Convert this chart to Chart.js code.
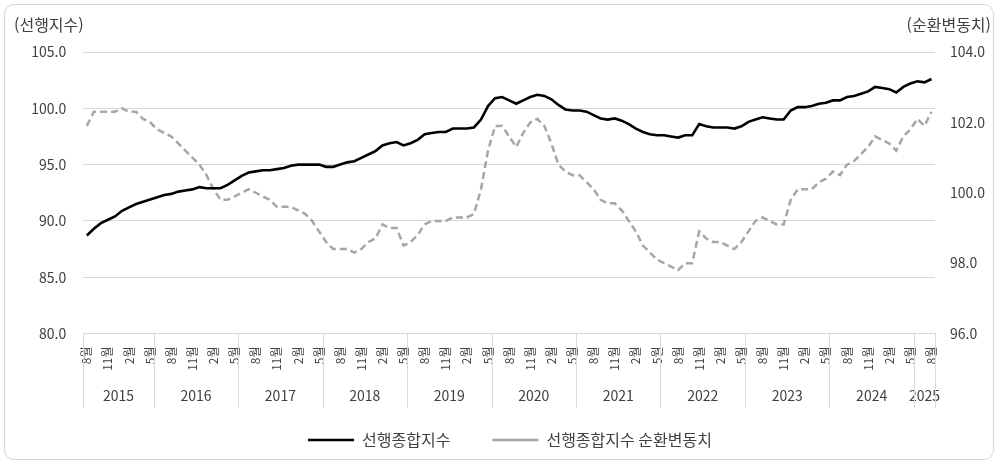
<!DOCTYPE html>
<html lang="ko">
<head>
<meta charset="utf-8">
<script src="https://cdn.jsdelivr.net/npm/chart.js@4/dist/chart.umd.min.js"></script>
<style>
  html, body { margin: 0; padding: 0; background: #fff; }
  #wrap { position: relative; width: 1001px; height: 466px; }
  #frame { position: absolute; left: 4px; top: 4px; width: 990px; height: 456px;
           border: 1px solid #d4d4d4; border-radius: 10px; box-sizing: border-box; }
  #chart { position: absolute; left: 0; top: 0; }
</style>
</head>
<body>
<div id="wrap">
  <div id="frame"></div>
  <canvas id="chart" width="1001" height="466"></canvas>
</div>
<script>
// 선행종합지수 and its cyclical component, monthly 2015.8 ~ 2025.8
const startYear = 2015;
const startMonth = 8;
const monthCount = 121;

const leadingIndex = [
  88.7, 89.3, 89.8, 90.1, 90.4, 90.9, 91.2, 91.5, 91.7, 91.9,
  92.1, 92.3, 92.4, 92.6, 92.7, 92.8, 93.0, 92.9, 92.9, 92.9,
  93.2, 93.6, 94.0, 94.3, 94.4, 94.5, 94.5, 94.6, 94.7, 94.9,
  95.0, 95.0, 95.0, 95.0, 94.8, 94.8, 95.0, 95.2, 95.3, 95.6,
  95.9, 96.2, 96.7, 96.9, 97.0, 96.7, 96.9, 97.2, 97.7, 97.8,
  97.9, 97.9, 98.2, 98.2, 98.2, 98.3, 99.0, 100.2, 100.9, 101.0,
  100.7, 100.4, 100.7, 101.0, 101.2, 101.1, 100.8, 100.3, 99.9, 99.8,
  99.8, 99.7, 99.4, 99.1, 99.0, 99.1, 98.9, 98.6, 98.2, 97.9,
  97.7, 97.6, 97.6, 97.5, 97.4, 97.6, 97.6, 98.6, 98.4, 98.3,
  98.3, 98.3, 98.2, 98.4, 98.8, 99.0, 99.2, 99.1, 99.0, 99.0,
  99.8, 100.1, 100.1, 100.2, 100.4, 100.5, 100.7, 100.7, 101.0, 101.1,
  101.3, 101.5, 101.9, 101.8, 101.7, 101.4, 101.9, 102.2, 102.4, 102.3,
  102.6
];

const cyclicalComponent = [
  101.9, 102.3, 102.3, 102.3, 102.3, 102.4, 102.3, 102.3, 102.1, 102.0,
  101.8, 101.7, 101.6, 101.4, 101.2, 101.0, 100.8, 100.5, 100.1, 99.8,
  99.8, 99.9, 100.0, 100.1, 100.0, 99.9, 99.8, 99.6, 99.6, 99.6,
  99.5, 99.4, 99.2, 98.9, 98.6, 98.4, 98.4, 98.4, 98.3, 98.4,
  98.6, 98.7, 99.1, 99.0, 99.0, 98.5, 98.6, 98.8, 99.1, 99.2,
  99.2, 99.2, 99.3, 99.3, 99.3, 99.4, 100.1, 101.2, 101.9, 101.9,
  101.6, 101.3, 101.7, 102.0, 102.1, 101.9, 101.4, 100.8, 100.6, 100.5,
  100.5, 100.3, 100.1, 99.8, 99.7, 99.7, 99.5, 99.2, 98.9, 98.5,
  98.3, 98.1, 98.0, 97.9, 97.8, 98.0, 98.0, 98.9, 98.7, 98.6,
  98.6, 98.5, 98.4, 98.6, 98.9, 99.2, 99.3, 99.2, 99.1, 99.1,
  99.8, 100.1, 100.1, 100.1, 100.3, 100.4, 100.6, 100.5, 100.8, 100.9,
  101.1, 101.3, 101.6, 101.5, 101.4, 101.2, 101.6, 101.8, 102.1, 101.9,
  102.3
];

// year row of the category axis (as grouped in the original sheet)
const yearLabels = ['2015', '2016', '2017', '2018', '2019', '2020', '2021', '2022', '2023', '2024', '2025'];
const yearSpans = [10, 12, 12, 12, 12, 12, 12, 12, 12, 12, 3];
const monthLabelEvery = 3;

const leftTicks = { min: 80, max: 105, step: 5 };
const rightTicks = { min: 96, max: 104, step: 2 };

const seriesNames = ['선행종합지수', '선행종합지수 순환변동치'];
const axisTitles = ['(선행지수)', '(순환변동치)'];

const FONT = "'Noto Sans CJK KR', 'Noto Sans', sans-serif";
const TEXT = '#404040';
const GRID = '#d9d9d9';

// categories: one per month
const categories = [];
for (let i = 0; i < monthCount; i++) {
  const m0 = startMonth - 1 + i;
  categories.push((startYear + Math.floor(m0 / 12)) + '.' + (m0 % 12 + 1));
}

// two-row category axis (rotated months, then years) and the two axis titles
const extrasPlugin = {
  id: 'extras',
  afterDraw(chart) {
    const ctx = chart.ctx;
    const x = chart.scales.x;
    const area = chart.chartArea;
    const half = (x.getPixelForValue(1) - x.getPixelForValue(0)) / 2;
    ctx.save();
    ctx.fillStyle = TEXT;

    // month labels, rotated so they read upward and end just under the axis
    ctx.font = '12px ' + FONT;
    ctx.textAlign = 'right';
    ctx.textBaseline = 'middle';
    categories.forEach((c, i) => {
      if (i % monthLabelEvery !== 0) return;
      ctx.save();
      ctx.translate(x.getPixelForValue(i), area.bottom + 13);
      ctx.rotate(-Math.PI / 2);
      ctx.fillText(c.split('.')[1] + '월', 0, 0);
      ctx.restore();
    });

    // year labels and group separators
    ctx.strokeStyle = GRID;
    ctx.lineWidth = 1;
    ctx.font = '14px ' + FONT;
    ctx.textAlign = 'center';
    let idx = 0;
    const edges = [x.getPixelForValue(0) - half];
    yearSpans.forEach((span, k) => {
      const first = x.getPixelForValue(idx);
      const last = x.getPixelForValue(idx + span - 1);
      edges.push(last + half);
      ctx.fillText(yearLabels[k], (first + last) / 2, 396);
      idx += span;
    });
    edges.forEach(px => {
      const p = Math.round(px) + 0.5;
      ctx.beginPath();
      ctx.moveTo(p, area.bottom);
      ctx.lineTo(p, 408);
      ctx.stroke();
    });

    ctx.font = '16px ' + FONT;
    ctx.textAlign = 'left';
    ctx.fillText(axisTitles[0], 14, 25);
    ctx.textAlign = 'right';
    ctx.fillText(axisTitles[1], 991, 25);
    ctx.restore();
  }
};

const chart = new Chart(document.getElementById('chart'), {
  type: 'line',
  data: {
    labels: categories,
    datasets: [
      {
        label: seriesNames[0],
        data: leadingIndex,
        yAxisID: 'y',
        borderColor: '#000000',
        backgroundColor: '#000000',
        borderWidth: 2.6,
        pointRadius: 0,
        tension: 0
      },
      {
        label: seriesNames[1],
        data: cyclicalComponent,
        yAxisID: 'y1',
        borderColor: '#a6a6a6',
        backgroundColor: '#a6a6a6',
        borderWidth: 2.5,
        borderDash: [7, 4],
        pointRadius: 0,
        tension: 0
      }
    ]
  },
  options: {
    responsive: false,
    animation: false,
    layout: { padding: { left: 19, right: 0, top: 52, bottom: 8 } },
    plugins: {
      tooltip: { enabled: false },
      legend: {
        position: 'bottom',
        labels: {
          usePointStyle: true,
          pointStyle: 'line',
          pointStyleWidth: 46,
          padding: 42,
          color: TEXT,
          font: { family: FONT, size: 16 }
        }
      }
    },
    scales: {
      x: {
        offset: true,
        grid: { display: false, drawTicks: false },
        border: { display: true, color: GRID },
        ticks: { display: false },
        afterFit(scale) { scale.height = 56.5; }
      },
      y: {
        position: 'left',
        min: leftTicks.min,
        max: leftTicks.max,
        grid: { color: GRID, drawTicks: false },
        border: { display: false },
        ticks: {
          stepSize: leftTicks.step,
          padding: 17,
          color: TEXT,
          font: { family: FONT, size: 14 },
          callback: v => v.toFixed(1)
        },
        afterFit(scale) { scale.width = 64.3; }
      },
      y1: {
        position: 'right',
        min: rightTicks.min,
        max: rightTicks.max,
        grid: { drawOnChartArea: false, drawTicks: false },
        border: { display: false },
        ticks: {
          stepSize: rightTicks.step,
          padding: 15,
          color: TEXT,
          font: { family: FONT, size: 14 },
          callback: v => v.toFixed(1)
        },
        afterFit(scale) { scale.width = 66; }
      }
    }
  },
  plugins: [extrasPlugin]
});
</script>
</body>
</html>
